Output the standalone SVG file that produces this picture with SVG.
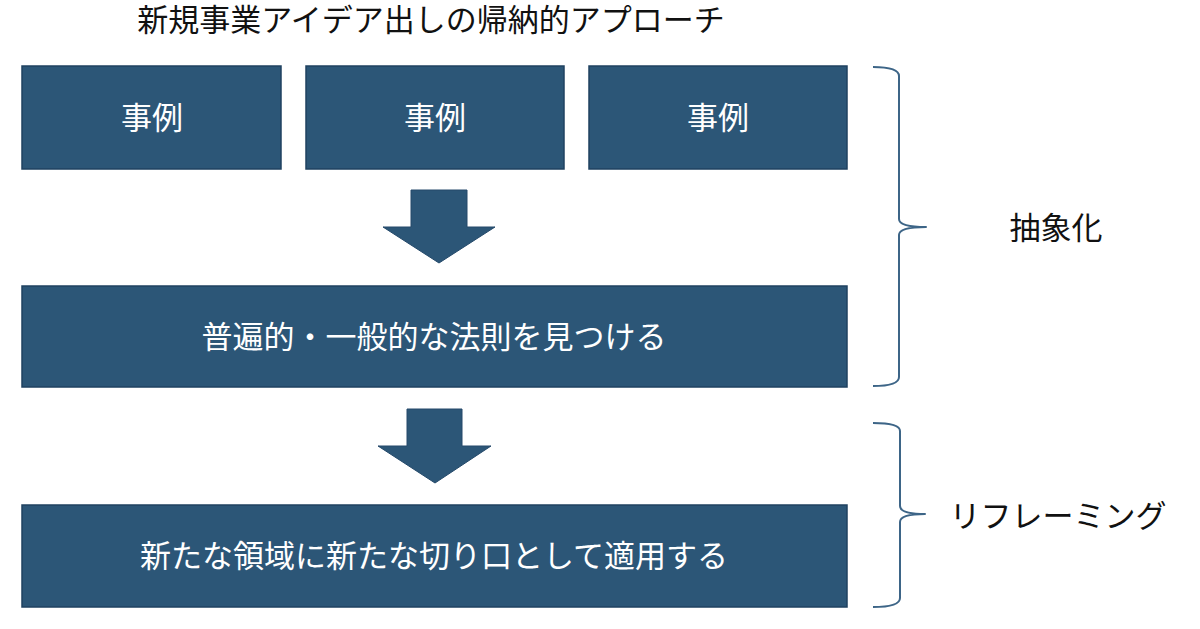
<svg xmlns="http://www.w3.org/2000/svg" width="1200" height="629" viewBox="0 0 1200 629">
<style>
.box{fill:#2c5677;stroke:#1f4260;stroke-width:1.5}
.arrow{fill:#2c5677;stroke:#24496a;stroke-width:1}
.brace{fill:none;stroke:#3d6587;stroke-width:2;stroke-linejoin:round}
.bt{fill:#ffffff;font-family:"Liberation Serif","Noto Sans CJK JP",serif;font-size:31px;text-anchor:middle}
.dt{fill:#111111;font-family:"Liberation Serif","Noto Sans CJK JP",serif;font-size:31px;text-anchor:middle}
</style>
<rect width="1200" height="629" fill="#ffffff"/>
<text id="title" class="dt" x="431" y="31">新規事業アイデア出しの帰納的アプローチ</text>
<g id="case1"><rect class="box" x="22" y="66" width="259" height="103"/><text class="bt" x="152" y="129">事例</text></g>
<g id="case2"><rect class="box" x="306" y="66" width="258" height="103"/><text class="bt" x="435" y="129">事例</text></g>
<g id="case3"><rect class="box" x="589" y="66" width="258" height="103"/><text class="bt" x="718" y="129">事例</text></g>
<g id="law"><rect class="box" x="22" y="286" width="825" height="101"/><text class="bt" x="434" y="348">普遍的・一般的な法則を見つける</text></g>
<g id="apply"><rect class="box" x="22" y="505" width="825" height="102"/><text class="bt" x="434" y="567">新たな領域に新たな切り口として適用する</text></g>
<g id="connectors">
<polygon class="arrow" points="411,190 467,190 467,227 495,227 439,263 383,227 411,227"/>
<polygon class="arrow" points="407,409 462,409 462,446 491,446 435,483 378,446 407,446"/>
<path class="brace" d="M873,67 Q899,67 899,76 L899,219 Q899,227 926,227 Q899,227 899,235 L899,377 Q899,386 873,386"/>
<path class="brace" d="M873,423 Q900,423 900,431 L900,506 Q900,514 925,514 Q900,514 900,522 L900,598 Q900,607 873,607"/>
</g>
<g id="abstraction"><text class="dt" x="1056" y="239">抽象化</text></g>
<g id="reframing"><text class="dt" x="1058" y="527">リフレーミング</text></g>
</svg>
